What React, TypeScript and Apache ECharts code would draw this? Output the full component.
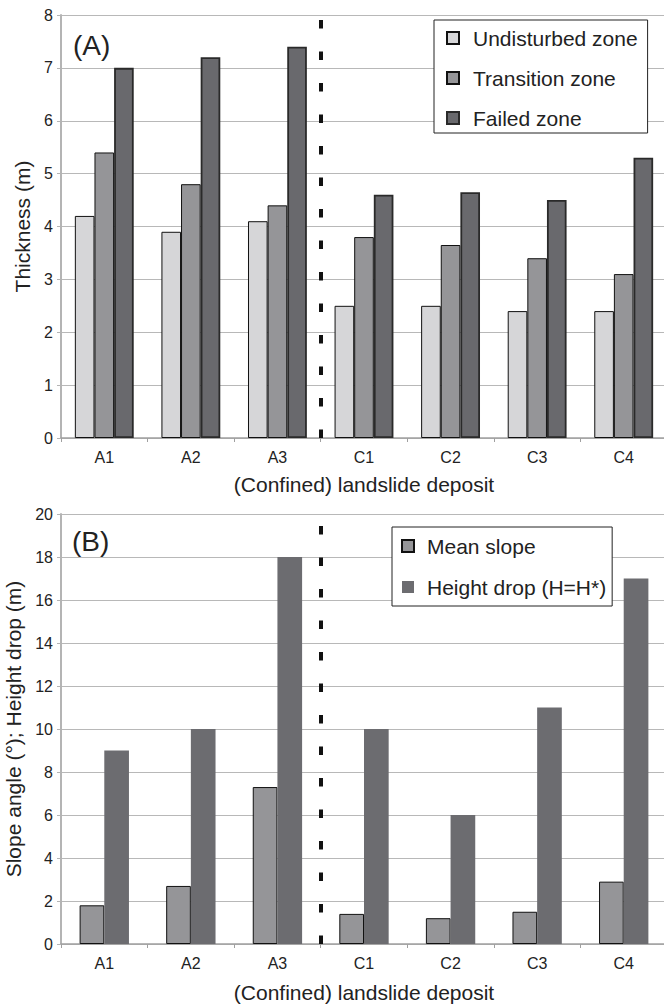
import React, { useEffect, useRef } from "react";
import * as echarts from "echarts";

// Deposit names along the horizontal axis
const deposits = ["A1", "A2", "A3", "C1", "C2", "C3", "C4"];
// Number of A-type deposits; the dashed separator sits after them
const separatorAfter = 3;

// Panel A: thickness (m) per zone
const undisturbed = [4.2, 3.9, 4.1, 2.5, 2.5, 2.4, 2.4];
const transition = [5.4, 4.8, 4.4, 3.8, 3.65, 3.4, 3.1];
const failed = [7.0, 7.2, 7.4, 4.6, 4.65, 4.5, 5.3];

// Panel B: mean slope (°) and height drop (m)
const meanSlope = [1.8, 2.7, 7.3, 1.4, 1.2, 1.5, 2.9];
const heightDrop = [9, 10, 18, 10, 6, 11, 17];

const FONT = "'Liberation Sans', Arial, Helvetica, sans-serif";
const TEXT = "#222";

const C_LIGHT = "#d6d6d8";
const C_MID = "#959598";
const C_DARK = "#69696d";

function catAxis(gridIndex: number, nameGap: number) {
  return {
    type: "category",
    gridIndex,
    data: deposits,
    name: "(Confined) landslide deposit",
    nameLocation: "middle",
    nameGap,
    nameTextStyle: { fontSize: 21, color: TEXT, fontFamily: FONT },
    axisLine: { lineStyle: { color: "#a0a0a0", width: 1.5 } },
    axisTick: { show: true, length: 4, lineStyle: { color: "#a0a0a0" } },
    axisLabel: { fontSize: 16, color: TEXT, fontFamily: FONT, margin: 11 },
  };
}

function sepAxis(gridIndex: number) {
  return {
    type: "value",
    gridIndex,
    min: 0,
    max: deposits.length,
    show: false,
    splitLine: { show: false },
  };
}

function valAxis(gridIndex: number, max: number, interval: number, name: string, nameGap: number) {
  return {
    type: "value",
    gridIndex,
    min: 0,
    max,
    interval,
    name,
    nameLocation: "middle",
    nameRotate: 90,
    nameGap,
    nameTextStyle: { fontSize: 21, color: TEXT, fontFamily: FONT },
    axisLine: { show: true, lineStyle: { color: "#b4b4b4", width: 2 } },
    axisTick: { show: true, length: 4, lineStyle: { color: "#b4b4b4" } },
    axisLabel: { fontSize: 16, color: TEXT, fontFamily: FONT, margin: 8 },
    splitLine: { show: true, lineStyle: { color: "#b8b8b8", width: 1 } },
  };
}

function separator(xAxisIndex: number, yAxisIndex: number) {
  return {
    type: "line",
    xAxisIndex,
    yAxisIndex,
    data: [],
    silent: true,
    markLine: {
      silent: true,
      symbol: ["none", "none"],
      label: { show: false },
      lineStyle: { color: "#111", width: 4, type: [8.5, 23] },
      data: [{ xAxis: separatorAfter }],
    },
  };
}

export default function App() {
  const ref = useRef<HTMLDivElement>(null);

  useEffect(() => {
    if (!ref.current) return;
    const chart = echarts.init(ref.current, null, { renderer: "svg" });
    chart.setOption({
      animation: false,
      backgroundColor: "#ffffff",
      textStyle: { fontFamily: FONT },
      title: [
        {
          text: "(A)",
          left: 68,
          top: 26,
          textStyle: { fontSize: 28, fontWeight: "normal", color: TEXT, fontFamily: FONT },
        },
        {
          text: "(B)",
          left: 67,
          top: 522,
          textStyle: { fontSize: 28, fontWeight: "normal", color: TEXT, fontFamily: FONT },
        },
      ],
      grid: [
        { left: 61, top: 15, width: 606, height: 423, outerBoundsMode: "none" },
        { left: 61, top: 514, width: 606, height: 430, outerBoundsMode: "none" },
      ],
      legend: [
        {
          data: ["Undisturbed zone", "Transition zone", "Failed zone"],
          orient: "vertical",
          left: 434,
          top: 20,
          padding: [7, 10, 4, 12],
          itemGap: 18,
          itemWidth: 12,
          itemHeight: 12,
          icon: "rect",
          backgroundColor: "#fff",
          borderColor: "#222",
          borderWidth: 1,
          borderRadius: 0,
          textStyle: { fontSize: 21, color: TEXT, fontFamily: FONT, lineHeight: 22, padding: [0, 0, 0, 9] },
        },
        {
          data: ["Mean slope", "Height drop (H=H*)"],
          orient: "vertical",
          left: 392,
          top: 527,
          padding: [8, 6, 8, 9],
          itemGap: 19,
          itemWidth: 12,
          itemHeight: 12,
          icon: "rect",
          backgroundColor: "#fff",
          borderColor: "#222",
          borderWidth: 1,
          borderRadius: 0,
          textStyle: { fontSize: 21, color: TEXT, fontFamily: FONT, lineHeight: 22, padding: [0, 0, 0, 8] },
        },
      ],
      xAxis: [catAxis(0, 36), catAxis(1, 38), sepAxis(0), sepAxis(1)],
      yAxis: [
        valAxis(0, 8, 1, "Thickness (m)", 27),
        valAxis(1, 20, 2, "Slope angle (°); Height drop (m)", 32),
      ],
      series: [
        {
          name: "Undisturbed zone",
          type: "bar",
          xAxisIndex: 0,
          yAxisIndex: 0,
          data: undisturbed,
          barGap: "0%",
          barCategoryGap: "32%",
          itemStyle: { color: C_LIGHT, borderColor: "#111", borderWidth: 1 },
        },
        {
          name: "Transition zone",
          type: "bar",
          xAxisIndex: 0,
          yAxisIndex: 0,
          data: transition,
          barGap: "0%",
          barCategoryGap: "32%",
          itemStyle: { color: C_MID, borderColor: "#111", borderWidth: 1 },
        },
        {
          name: "Failed zone",
          type: "bar",
          xAxisIndex: 0,
          yAxisIndex: 0,
          data: failed,
          barGap: "0%",
          barCategoryGap: "32%",
          itemStyle: { color: C_DARK, borderColor: "#2a2a2a", borderWidth: 1.8 },
        },
        {
          name: "Mean slope",
          type: "bar",
          xAxisIndex: 1,
          yAxisIndex: 1,
          data: meanSlope,
          barGap: "0%",
          barCategoryGap: "43%",
          itemStyle: { color: C_MID, borderColor: "#111", borderWidth: 1 },
        },
        {
          name: "Height drop (H=H*)",
          type: "bar",
          xAxisIndex: 1,
          yAxisIndex: 1,
          data: heightDrop,
          barGap: "0%",
          barCategoryGap: "43%",
          itemStyle: { color: "#6c6c70" },
        },
        separator(2, 0),
        separator(3, 1),
      ],
    });
    return () => chart.dispose();
  }, []);

  return (
    <div
      ref={ref}
      style={{ position: "absolute", left: 0, top: 0, width: 664, height: 1005 }}
    />
  );
}
